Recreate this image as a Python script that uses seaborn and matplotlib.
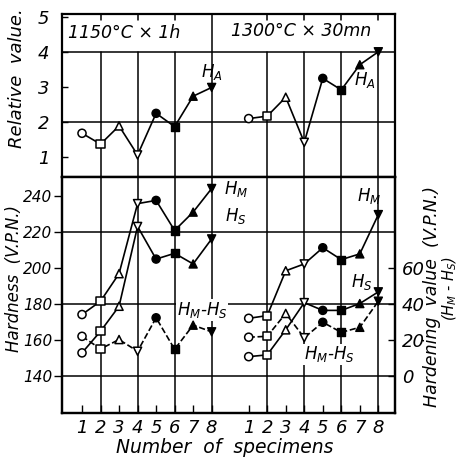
import numpy as np
import pandas as pd
import matplotlib
matplotlib.use("Agg")
import matplotlib.pyplot as plt
import seaborn as sns

# ---------------- data ----------------
specimens = [1, 2, 3, 4, 5, 6, 7, 8]
groups = ["1150°C × 1h", "1300°C × 30mn"]
group_offset = [0, 9]

ha_1150 = [1.67, 1.36, 1.88, 1.05, 2.24, 1.86, 2.73, 2.98]
ha_1300 = [2.09, 2.16, 2.70, 1.41, 3.24, 2.91, 3.63, 4.00]

hm_1150 = [173.9, 181.3, 196.6, 235.5, 237.3, 220.6, 230.8, 243.9]
hs_1150 = [152.6, 164.6, 178.5, 222.8, 204.7, 207.9, 202.0, 215.9]
diff_1150 = [21.8, 14.8, 20.0, 13.5, 32.1, 14.6, 28.0, 24.3]

hm_1300 = [171.8, 173.3, 198.2, 202.0, 211.0, 204.4, 207.6, 229.4]
hs_1300 = [150.5, 151.5, 165.4, 180.5, 176.2, 176.2, 180.0, 186.5]
diff_1300 = [21.3, 21.8, 34.5, 21.0, 29.6, 24.0, 26.8, 41.3]

xtick_labels = [str(s) for s in specimens] * 2
rel_ticks = [1, 2, 3, 4, 5]
hard_ticks = [140, 160, 180, 200, 220, 240]
hv_ticks = [0, 20, 40, 60]

# ---------------- style ----------------
sns.set_theme(style="white")
plt.rcParams['font.family'] = ['Liberation Sans Narrow', 'DejaVu Sans']
plt.rcParams['font.style'] = 'italic'
plt.rcParams['mathtext.fontset'] = 'dejavusans'
plt.rcParams['mathtext.default'] = 'it'
for k in ('text.color', 'axes.labelcolor', 'xtick.color', 'ytick.color'):
    plt.rcParams[k] = 'black'

marker_map = {1: 'o', 2: 's', 3: '^', 4: 'v', 5: 'o', 6: 's', 7: '^', 8: 'v'}


def frame(series):
    rows = []
    for g, off, vals in zip(groups, group_offset, series):
        for s, v in zip(specimens, vals):
            rows.append(dict(group=g, specimen=s, x=s + off, value=v))
    return pd.DataFrame(rows)


def draw(ax, df, ls='-'):
    sns.lineplot(data=df, x='x', y='value', units='group', estimator=None,
                 color='black', lw=1.2, ls=ls, sort=False, legend=False, ax=ax,
                 zorder=4)
    open_df = df[df.specimen <= 4]
    fill_df = df[df.specimen > 4]
    sns.scatterplot(data=open_df, x='x', y='value', style='specimen',
                    markers={k: marker_map[k] for k in [1, 2, 3, 4]},
                    color='white', edgecolor='black', linewidth=1.1, s=34,
                    legend=False, ax=ax, zorder=5)
    sns.scatterplot(data=fill_df, x='x', y='value', style='specimen',
                    markers={k: marker_map[k] for k in [5, 6, 7, 8]},
                    color='black', edgecolor='black', linewidth=1.0, s=34,
                    legend=False, ax=ax, zorder=5)


fig = plt.figure(figsize=(4.6, 4.59), dpi=100)
ax_top = fig.add_axes([0.1348, 0.6144, 0.7239, 0.3551])
ax_bot = fig.add_axes([0.1348, 0.1002, 0.7239, 0.5142])
ax_r = ax_bot.twinx()

xlim = (-0.08, 17.9)
positions = [s + off for off in group_offset for s in specimens]
even_pos = [2, 4, 6, 8, 11, 13, 15, 17]

# ---------------- upper panel ----------------
ylo, yhi = 0.42, 5.08
ax_top.set_xlim(*xlim)
ax_top.set_ylim(ylo, yhi)
f4 = (4 - ylo) / (yhi - ylo)
for p in even_pos:
    if p == 8:
        ax_top.axvline(p, color='black', lw=1.1, zorder=1)
    else:
        ax_top.axvline(p, ymax=f4, color='black', lw=1.1, zorder=1)
        ax_top.axvline(p, ymin=0.965, color='black', lw=1.1, zorder=1)
for yv in (2, 4):
    ax_top.axhline(yv, color='black', lw=1.1, zorder=1)
draw(ax_top, frame([ha_1150, ha_1300]))
ax_top.set_xticks([])
ax_top.set_yticks(rel_ticks)
ax_top.set_yticklabels([str(t) for t in rel_ticks], fontsize=13)
ax_top.tick_params(axis='y', direction='in', length=4, width=1, left=True,
                   colors='black', pad=9)
ax_top.set_xlabel('')
ax_top.set_ylabel('')
ax_top.text(3.3, 4.53, groups[0], fontsize=12.5, ha='center', va='center')
ax_top.text(12.85, 4.6, groups[1], fontsize=12.5, ha='center', va='center')
ax_top.text(8.0, 3.42, r'$H_A$', fontsize=12, ha='center', va='center')
ax_top.text(16.25, 3.2, r'$H_A$', fontsize=12, ha='center', va='center')

# ---------------- lower panel ----------------
hlo, hhi = 119.2, 250.3
ax_bot.set_xlim(*xlim)
ax_bot.set_ylim(hlo, hhi)
ax_r.set_ylim(hlo - 140, hhi - 140)
for p in even_pos:
    ax_bot.axvline(p, color='black', lw=1.1, zorder=1)
for yv in (140, 180, 220):
    ax_bot.axhline(yv, color='black', lw=1.1, zorder=1)

draw(ax_bot, frame([hm_1150, hm_1300]))
draw(ax_bot, frame([hs_1150, hs_1300]))
draw(ax_r, frame([diff_1150, diff_1300]), ls='--')

ax_bot.set_xticks(positions)
ax_bot.set_xticklabels(xtick_labels, fontsize=13)
ax_bot.tick_params(axis='x', direction='in', length=6, width=1, bottom=True,
                   colors='black', pad=4)
ax_bot.set_yticks(hard_ticks)
ax_bot.set_yticklabels([str(t) for t in hard_ticks], fontsize=11)
ax_bot.tick_params(axis='y', direction='out', length=6, width=1, left=True,
                   colors='black', pad=1)
ax_r.set_yticks(hv_ticks)
ax_r.set_yticklabels([str(t) for t in hv_ticks], fontsize=13)
ax_r.tick_params(axis='y', direction='in', length=5, width=1, right=True,
                 colors='black', pad=5)
for a in (ax_bot, ax_r):
    a.set_xlabel('')
    a.set_ylabel('')

box = dict(facecolor='white', edgecolor='none', pad=0.5)
ax_bot.text(9.3, 243.5, r'$H_M$', fontsize=12, ha='center', va='center', bbox=box, zorder=6)
ax_bot.text(9.3, 228.6, r'$H_S$', fontsize=12, ha='center', va='center', bbox=box, zorder=6)
ax_bot.text(7.5, 176.4, r'$H_M$-$H_S$', fontsize=12, ha='center', va='center', bbox=box, zorder=6)
ax_bot.text(16.5, 239.5, r'$H_M$', fontsize=12, ha='center', va='center', zorder=6)
ax_bot.text(16.1, 192.2, r'$H_S$', fontsize=12, ha='center', va='center', zorder=6)
ax_bot.text(14.35, 151.7, r'$H_M$-$H_S$', fontsize=12, ha='center', va='center', bbox=box, zorder=6)

for a in (ax_top, ax_bot, ax_r):
    for sp in a.spines.values():
        sp.set_color('black')
        sp.set_linewidth(1.6)
    a.grid(False)

# ---------------- axis titles ----------------
fig.text(0.038, 0.830, 'Relative  value.', rotation=90, fontsize=13,
         ha='center', va='center')
fig.text(0.030, 0.394, 'Hardness  (V.P.N.)', rotation=90, fontsize=12,
         ha='center', va='center')
fig.text(0.940, 0.353, 'Hardening  value  (V.P.N.)', rotation=90, fontsize=12.5,
         ha='center', va='center')
fig.text(0.977, 0.372, r'($H_M$ - $H_S$)', rotation=90, fontsize=10.5,
         ha='center', va='center')
fig.text(0.489, 0.026, 'Number  of  specimens', fontsize=13.5,
         ha='center', va='center')

fig.savefig('out.png', dpi=100)
